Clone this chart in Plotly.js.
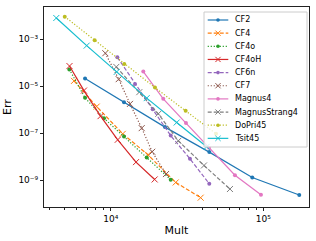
<!DOCTYPE html>
<html>
<head>
<meta charset="utf-8">
<script src="https://cdn.plot.ly/plotly-3.0.1.min.js"></script>
<style>
html,body{margin:0;padding:0;background:#fff;}
#chart{width:316px;height:241px;}
</style>
</head>
<body>
<div id="chart"></div>
<script>
// ---- data ----
const methods = ['CF2','CF4','CF4o','CF4oH','CF6n','CF7','Magnus4','MagnusStrang4','DoPri45','Tsit45'];

const mult_CF2 = [6790, 12220, 22680, 44240, 84600, 171900];
const err_CF2  = [2.1e-5, 2.08e-6, 1.8e-7, 1.55e-8, 1.29e-9, 2.3e-10];
const mult_CF4 = [5750, 8095, 11990, 17550, 26660, 38850];
const err_CF4  = [1.68e-5, 1.35e-6, 9.3e-8, 1.19e-8, 7.9e-10, 1.77e-10];
const mult_CF4o = [5357, 6790, 9040, 12220, 17210, 24720];
const err_CF4o  = [5.19e-5, 3.18e-6, 4.27e-7, 7.16e-8, 9.16e-9, 1.03e-9];
const mult_CF4oH = [5370, 6680, 8580, 11120, 14650, 19410];
const err_CF4oH  = [7.2e-5, 6.5e-6, 5.3e-7, 5.2e-8, 5.8e-9, 1.06e-9];
const mult_CF6n = [11050, 14430, 18840, 24720, 33050, 44230];
const err_CF6n  = [1.71e-4, 1.25e-5, 1.03e-6, 7.83e-8, 8.06e-9, 6.96e-10];
const mult_CF7 = [9220, 11280, 13380, 15960, 18700, 23030];
const err_CF7  = [2.54e-4, 1.99e-5, 1.76e-6, 1.63e-7, 1.6e-8, 1.8e-9];
const mult_Magnus4 = [16350, 22100, 31120, 44030, 65160, 96450];
const err_Magnus4  = [4.18e-5, 2.88e-6, 2.67e-7, 2.37e-8, 1.6e-9, 2.37e-10];
const mult_MagnusStrang4 = [10880, 15390, 20500, 27720, 40830, 60420];
const err_MagnusStrang4  = [6.63e-5, 5.55e-6, 6.62e-7, 4.7e-8, 4.18e-9, 4.14e-10];
const mult_DoPri45 = [5000, 7850, 12270, 19500, 30970, 48980];
const err_DoPri45  = [9.2e-3, 9.1e-4, 8.9e-5, 8.7e-6, 8.9e-7, 9.3e-8];
const mult_Tsit45 = [4402, 6960, 10950, 17210, 27050, 42540];
const err_Tsit45  = [8.05e-3, 5.34e-4, 4.06e-5, 3.09e-6, 2.83e-7, 2.61e-8];

const xTickVals = [1e4, 1e5];
const xTickText = ['10\u2074', '10\u2075'];
const xMinorVals = [4000,5000,6000,7000,8000,9000,20000,30000,40000,50000,60000,70000,80000,90000];
const yTickVals = [1e-9, 1e-7, 1e-5, 1e-3];
const yTickText = ['10\u207B\u2079', '10\u207B\u2077', '10\u207B\u2075', '10\u207B\u00B3'];

// ---- styles ----
const seriesX = [mult_CF2, mult_CF4, mult_CF4o, mult_CF4oH, mult_CF6n, mult_CF7, mult_Magnus4, mult_MagnusStrang4, mult_DoPri45, mult_Tsit45];
const seriesY = [err_CF2, err_CF4, err_CF4o, err_CF4oH, err_CF6n, err_CF7, err_Magnus4, err_MagnusStrang4, err_DoPri45, err_Tsit45];
const colors = ['#1f77b4','#ff7f0e','#2ca02c','#d62728','#9467bd','#8c564b','#e377c2','#7f7f7f','#bcbd22','#17becf'];
const DASHED = '4px,2px', DOTTED = '1.2px,1.8px';
const dashes = ['solid', DASHED, DOTTED, 'solid', DASHED, DOTTED, 'solid', DASHED, DOTTED, 'solid'];
const markerKinds = ['dot','x','dot','x','dot','x','dot','x','dot','x'];

const traces = methods.map((name, i) => ({
  type: 'scatter',
  mode: 'lines+markers',
  name: name,
  x: seriesX[i],
  y: seriesY[i],
  showlegend: false,
  line: {color: colors[i], width: 1.2, dash: dashes[i]},
  marker: markerKinds[i] === 'x'
    ? {symbol: 'x-thin', size: 6, color: colors[i], line: {color: colors[i], width: 1}}
    : {symbol: 'circle', size: 4, color: colors[i], line: {width: 0}}
}));

// ---- plot geometry (pixels) ----
const W = 316, H = 241;
const M = {l: 44, r: 7, t: 7, b: 34};
const PW = W - M.l - M.r, PH = H - M.t - M.b;
const px2x = p => (p - M.l) / PW;
const py2y = p => (H - M.b - p) / PH;

// ---- custom legend (matplotlib style) ----
const shapes = [];
const annotations = [];
const LB = {x0: 204, x1: 307, y0: 12, y1: 147};
shapes.push({type: 'rect', xref: 'paper', yref: 'paper', layer: 'above',
  x0: px2x(LB.x0), x1: px2x(LB.x1), y0: py2y(LB.y1), y1: py2y(LB.y0),
  fillcolor: 'rgba(255,255,255,0.8)', line: {color: '#cccccc', width: 1}});
const rowY0 = 20, rowStep = 13.15;
const lineX0 = 207.7, lineX1 = 228.3, markX = 218, textX = 232.5;
methods.forEach((name, i) => {
  const cy = rowY0 + i * rowStep;
  shapes.push({type: 'line', xref: 'paper', yref: 'paper', layer: 'above',
    x0: px2x(lineX0), x1: px2x(lineX1), y0: py2y(cy), y1: py2y(cy),
    line: {color: colors[i], width: 1.2, dash: dashes[i]}});
  if (markerKinds[i] === 'x') {
    const s = 2.6;
    shapes.push({type: 'line', xref: 'paper', yref: 'paper', layer: 'above',
      x0: px2x(markX - s), x1: px2x(markX + s), y0: py2y(cy - s), y1: py2y(cy + s),
      line: {color: colors[i], width: 1}});
    shapes.push({type: 'line', xref: 'paper', yref: 'paper', layer: 'above',
      x0: px2x(markX - s), x1: px2x(markX + s), y0: py2y(cy + s), y1: py2y(cy - s),
      line: {color: colors[i], width: 1}});
  } else {
    const r = 1.8;
    shapes.push({type: 'circle', xref: 'paper', yref: 'paper', layer: 'above',
      x0: px2x(markX - r), x1: px2x(markX + r), y0: py2y(cy + r), y1: py2y(cy - r),
      fillcolor: colors[i], line: {color: colors[i], width: 0}});
  }
  annotations.push({xref: 'paper', yref: 'paper', x: px2x(textX), y: py2y(cy),
    xanchor: 'left', yanchor: 'middle', showarrow: false, text: name,
    font: {family: 'DejaVu Sans', size: 8, color: '#000'}});
});

const axisCommon = {
  type: 'log', showgrid: false, zeroline: false,
  showline: true, mirror: true, linecolor: '#222', linewidth: 1,
  ticks: 'outside', ticklen: 3, tickwidth: 0.8, tickcolor: '#222',
  tickfont: {family: 'DejaVu Sans', size: 9, color: '#000'},
  tickmode: 'array', automargin: false
};

const layout = {
  width: W, height: H,
  margin: {l: M.l, r: M.r, t: M.t, b: M.b, pad: 0},
  paper_bgcolor: '#fff', plot_bgcolor: '#fff',
  showlegend: false,
  xaxis: Object.assign({}, axisCommon, {
    range: [3.563, 5.299],
    tickvals: xTickVals, ticktext: xTickText,
    minor: {tickmode: 'array', tickvals: xMinorVals, ticks: 'outside', ticklen: 1.6, tickwidth: 0.7, tickcolor: '#222', showgrid: false},
    title: {text: 'Mult', font: {family: 'DejaVu Sans', size: 11, color: '#000'}, standoff: 3}
  }),
  yaxis: Object.assign({}, axisCommon, {
    range: [-10.149, -1.626],
    tickvals: yTickVals, ticktext: yTickText,
    title: {text: 'Err', font: {family: 'DejaVu Sans', size: 11, color: '#000'}, standoff: 4}
  }),
  shapes: shapes,
  annotations: annotations
};

Plotly.newPlot('chart', traces, layout, {displayModeBar: false});
</script>
</body>
</html>
